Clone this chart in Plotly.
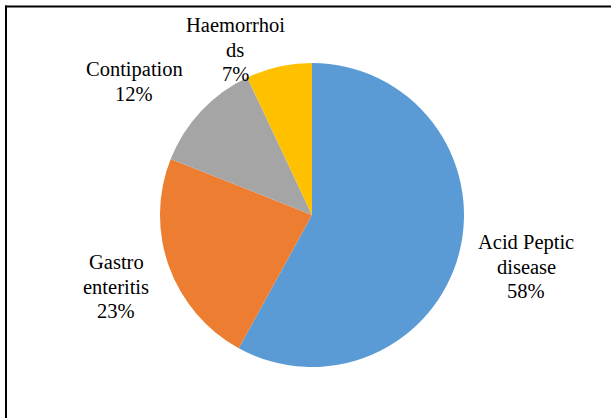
import plotly.graph_objects as go

labels = ["Acid Peptic disease", "Gastro enteritis", "Contipation", "Haemorrhoids"]
values = [58, 23, 12, 7]
colors = ["#5B9BD5", "#ED7D31", "#A5A5A5", "#FFC000"]
label_lines = [["Acid Peptic", "disease", "58%"],
               ["Gastro", "enteritis", "23%"],
               ["Contipation", "12%"],
               ["Haemorrhoi", "ds", "7%"]]
# label block centre (pixels) of first line, per slice
label_pos = [(526, 242), (116, 262), (134, 69), (235, 25)]

FONT = "'Liberation Serif', 'Times New Roman', Times, serif"
W, H = 611, 418
fig = go.Figure(go.Pie(
    labels=labels, values=values, sort=False, direction="clockwise", rotation=0,
    marker=dict(colors=colors, line=dict(width=0)),
    textinfo="none", hoverinfo="skip", showlegend=False,
    domain=dict(x=[160 / W, 464 / W], y=[1 - 367 / H, 1 - 63 / H]),
))

ann = []
for lines, (cx, cy) in zip(label_lines, label_pos):
    for i, t in enumerate(lines):
        ann.append(dict(text=t, x=cx / W, y=1 - (cy + i * 24.5) / H, xref="paper", yref="paper",
                        showarrow=False, xanchor="center", yanchor="middle",
                        font=dict(family=FONT, size=20.5, color="#000")))

shapes = [
    dict(type="line", xref="paper", yref="paper", x0=5 / W, x1=1, y0=1 - 6.5 / H, y1=1 - 6.5 / H,
         line=dict(color="black", width=2)),
    dict(type="line", xref="paper", yref="paper", x0=6 / W, x1=6 / W, y0=1 - 5.5 / H, y1=0,
         line=dict(color="black", width=2)),
]

fig.update_layout(width=W, height=H, margin=dict(l=0, r=0, t=0, b=0),
                  paper_bgcolor="white", plot_bgcolor="white",
                  font=dict(family=FONT),
                  annotations=ann, shapes=shapes)
fig.write_html("out.html", config={"displayModeBar": False, "staticPlot": True},
               post_script="document.body.style.margin='0';document.body.style.padding='0';")
